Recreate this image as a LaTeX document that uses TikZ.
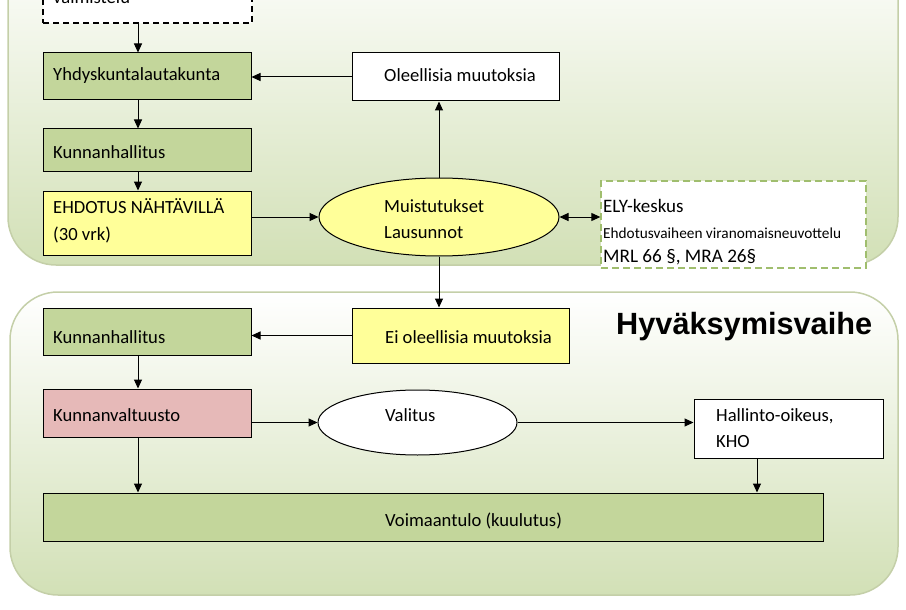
\documentclass[tikz,border=0pt]{standalone}
\usepackage{fontspec}
\setmainfont{Carlito}
\newfontfamily\headfont{Liberation Sans}
\usetikzlibrary{arrows.meta,shapes.geometric}
\definecolor{boxgreen}{RGB}{195,214,155}
\definecolor{boxyellow}{RGB}{255,255,153}
\definecolor{boxpink}{RGB}{230,185,184}
\definecolor{panelgreen}{RGB}{210,224,182}
\definecolor{panelborder}{RGB}{196,207,168}
\definecolor{elygreen}{RGB}{160,190,110}
\begin{document}
\begin{tikzpicture}[x=1pt,y=-1pt,
  every node/.style={font=\fontsize{18.6}{27}\selectfont},
  panel/.style={draw=panelborder, line width=1.5pt, top color=white, bottom color=panelgreen, rounded corners=48pt},
  box/.style={draw=black, line width=1pt, rectangle, inner sep=0pt},
  oval/.style={draw=black, line width=1pt, ellipse, inner sep=0pt},
  txt/.style={anchor=base west, inner sep=0pt},
  arr/.style={-{Triangle[length=9pt,width=8pt]}, line width=1pt},
  darr/.style={{Triangle[length=9pt,width=8pt]}-{Triangle[length=9pt,width=8pt]}, line width=1pt}
]
\useasboundingbox (0,0) rectangle (906,610);
\clip (0,0) rectangle (906,610);
% panels
\path[panel] (8,-60) rectangle (898,265);
\path[panel] (10,292) rectangle (898,595);

% boxes
\node[box, fill=white, dash pattern=on 6pt off 4pt, line width=1.6pt, minimum width=209pt, minimum height=63pt] (dash) at (147.5,-8.5) {};
\node[box, fill=boxgreen, minimum width=208pt, minimum height=47pt] (yh) at (147,76.5) {};
\node[box, fill=white, minimum width=207pt, minimum height=48pt] (ole) at (455.5,77) {};
\node[box, fill=boxgreen, minimum width=208pt, minimum height=42pt] (kh1) at (147,150) {};
\node[box, fill=boxyellow, minimum width=208pt, minimum height=64pt] (ehd) at (147,223) {};
\node[oval, fill=boxyellow, minimum width=240pt, minimum height=78pt] (mu) at (439,217) {};
\node[box, fill=white, draw=elygreen, dash pattern=on 7pt off 4pt, line width=1.3pt, minimum width=265pt, minimum height=87pt] (ely) at (733.5,224.5) {};
\node[box, fill=boxyellow, minimum width=217pt, minimum height=55pt] (ei) at (460.5,335.5) {};
\node[box, fill=boxgreen, minimum width=208pt, minimum height=47pt] (kh2) at (147,331.5) {};
\node[box, fill=boxpink, minimum width=208pt, minimum height=48pt] (kv) at (147,413) {};
\node[oval, fill=white, minimum width=199pt, minimum height=65pt] (val) at (417.5,422.5) {};
\node[box, fill=white, minimum width=189pt, minimum height=59pt] (hal) at (788.5,428.5) {};
\node[box, fill=boxgreen, minimum width=780pt, minimum height=48pt] (voim) at (433,517) {};

% texts
\node[txt] (tdash) at (53,4) {valmistelu};
\node[txt] (tyh) at (53,81) {Yhdyskuntalautakunta};
\node[txt] (tole) at (384,82) {Oleellisia muutoksia};
\node[txt] (tkh1) at (53,158) {Kunnanhallitus};
\node[txt] (tehd1) at (53,213) {EHDOTUS NÄHTÄVILLÄ};
\node[txt] (tehd2) at (53,240) {(30 vrk)};
\node[txt] (tmu1) at (384,212) {Muistutukset};
\node[txt] (tmu2) at (384,238) {Lausunnot};
\node[txt, font=\fontsize{19}{23}\selectfont] (tely1) at (603,212) {ELY-keskus};
\node[txt, font=\fontsize{15.3}{19}\selectfont] (tely2) at (603,238) {Ehdotusvaiheen viranomaisneuvottelu};
\node[txt, font=\fontsize{19.2}{23}\selectfont] (tely3) at (603,262) {MRL 66 §, MRA 26§};
\node[txt] (tkh2) at (53,343) {Kunnanhallitus};
\node[txt] (tei) at (385,343) {Ei oleellisia muutoksia};
\node[txt] (tkv) at (53,421) {Kunnanvaltuusto};
\node[txt] (tval) at (385,421) {Valitus};
\node[txt] (thal1) at (716,421) {Hallinto-oikeus,};
\node[txt] (thal2) at (716,447) {KHO};
\node[txt] (tvoim) at (385,526) {Voimaantulo (kuulutus)};
\node[txt, font=\headfont\bfseries\fontsize{30.7}{34}\selectfont] (head) at (616,334) {Hyväksymisvaihe};

% connectors
\draw[arr] ([xshift=-9.5pt]dash.south) -- ([xshift=-9pt]yh.north);
\draw[arr] ([xshift=-9pt]yh.south) -- ([xshift=-9pt]kh1.north);
\draw[arr] ([xshift=-9pt]kh1.south) -- ([xshift=-9pt]ehd.north);
\draw[arr] (ole.west) -- (yh.east |- ole.west);
\draw[arr] (ehd.east |- mu.west) -- (mu.west);
\draw[arr] (mu.north) -- (mu.north |- ole.south);
\draw[darr] (mu.east) -- (ely.west |- mu.east);
\draw[arr] (mu.south) -- (mu.south |- ei.north);
\draw[arr] (ei.west) -- (kh2.east |- ei.west);
\draw[arr] ([xshift=-9pt]kh2.south) -- ([xshift=-9pt]kv.north);
\draw[arr] (kv.east |- val.west) -- (val.west);
\draw[arr] (val.east) -- (hal.west |- val.east);
\draw[arr] ([xshift=-9pt]kv.south) -- ([xshift=-9pt]kv.south |- voim.north);
\draw[arr] ([xshift=-31.5pt]hal.south) -- ([xshift=-31.5pt]hal.south |- voim.north);
\end{tikzpicture}
\end{document}
